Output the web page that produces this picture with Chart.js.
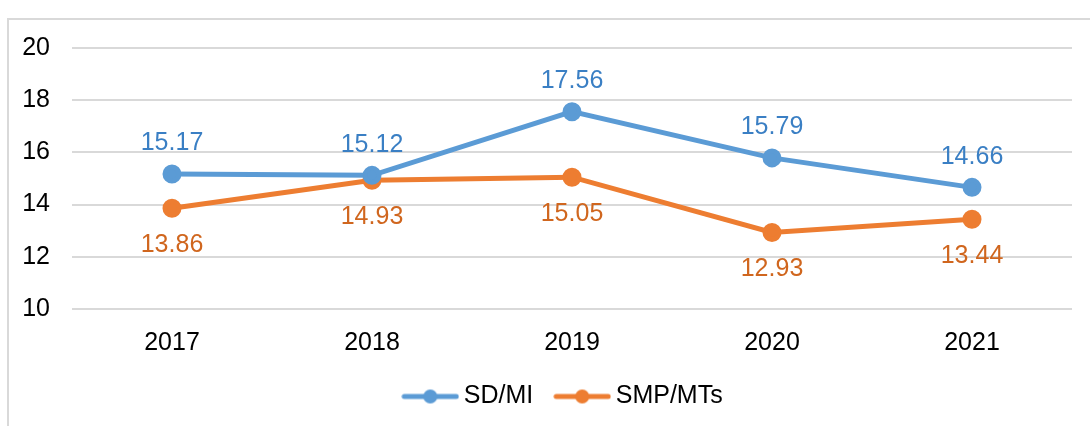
<!DOCTYPE html>
<html>
<head>
<meta charset="utf-8">
<script src="https://cdn.jsdelivr.net/npm/chart.js@4/dist/chart.umd.min.js"></script>
<style>
  html, body { margin: 0; padding: 0; background: #fff; }
  #wrap { position: relative; width: 1090px; height: 426px; overflow: hidden; }
  #frame {
    position: absolute; left: 7px; top: 18px; width: 1200px; height: 500px;
    border-left: 2px solid #d9d9d9; border-top: 2px solid #d9d9d9;
  }
  canvas { position: absolute; left: 0; top: 0; }
</style>
</head>
<body>
<div id="wrap">
  <div id="frame"></div>
  <canvas id="chart" width="1090" height="426"></canvas>
</div>
<script>
// data
const years = ["2017", "2018", "2019", "2020", "2021"];
const sdMi = [15.17, 15.12, 17.56, 15.79, 14.66];
const smpMts = [13.86, 14.93, 15.05, 12.93, 13.44];

const FONT = "'Liberation Sans', Arial, sans-serif";
const FSIZE = 25;
const BLUE = "#5b9bd5";
const ORANGE = "#ed7d31";

// legend icon: line with a dot
function legendIcon(color) {
  const c = document.createElement("canvas");
  c.width = 58;
  c.height = 16;
  const ctx = c.getContext("2d");
  ctx.strokeStyle = color;
  ctx.lineWidth = 5;
  ctx.lineCap = "round";
  ctx.beginPath();
  ctx.moveTo(3, 8);
  ctx.lineTo(55, 8);
  ctx.stroke();
  ctx.fillStyle = color;
  ctx.beginPath();
  ctx.arc(29, 8, 7, 0, Math.PI * 2);
  ctx.fill();
  return c;
}

// draws value labels above / below the points
const valueLabels = {
  id: "valueLabels",
  afterDatasetsDraw(chart) {
    const ctx = chart.ctx;
    ctx.save();
    ctx.font = FSIZE + "px " + FONT;
    ctx.textAlign = "center";
    chart.data.datasets.forEach((ds, i) => {
      const meta = chart.getDatasetMeta(i);
      meta.data.forEach((pt, j) => {
        const val = ds.data[j].toFixed(2);
        ctx.fillStyle = ds.labelColor;
        if (ds.labelPos === "above") {
          ctx.textBaseline = "bottom";
          ctx.fillText(val, pt.x, pt.y - 18);
        } else {
          ctx.textBaseline = "top";
          ctx.fillText(val, pt.x, pt.y + 24);
        }
      });
    });
    ctx.restore();
  },
};

// the original legend sits a bit right of the canvas centre
const legendShift = {
  id: "legendShift",
  afterLayout(chart) {
    chart.legend.left += 26;
    chart.legend.right += 26;
  },
};

new Chart(document.getElementById("chart"), {
  type: "line",
  data: {
    labels: years,
    datasets: [
      {
        label: "SD/MI",
        data: sdMi,
        borderColor: BLUE,
        backgroundColor: BLUE,
        borderWidth: 5,
        pointRadius: 7,
        pointHoverRadius: 7,
        tension: 0,
        labelColor: "#3a7fc4",
        labelPos: "above",
        icon: legendIcon(BLUE),
      },
      {
        label: "SMP/MTs",
        data: smpMts,
        borderColor: ORANGE,
        backgroundColor: ORANGE,
        borderWidth: 5,
        pointRadius: 7,
        pointHoverRadius: 7,
        tension: 0,
        labelColor: "#d0661e",
        labelPos: "below",
        icon: legendIcon(ORANGE),
      },
    ],
  },
  options: {
    responsive: false,
    animation: false,
    events: [],
    layout: { padding: { left: 8, right: 18, top: 48, bottom: 7 } },
    plugins: {
      tooltip: { enabled: false },
      legend: {
        position: "bottom",
        labels: {
          color: "#000",
          font: { family: FONT, size: FSIZE },
          usePointStyle: true,
          pointStyleWidth: 42,
          padding: 28,
          generateLabels(chart) {
            return chart.data.datasets.map((ds, i) => ({
              text: ds.label,
              pointStyle: ds.icon,
              fillStyle: ds.borderColor,
              strokeStyle: ds.borderColor,
              lineWidth: 0,
              hidden: false,
              datasetIndex: i,
              fontColor: "#000",
            }));
          },
        },
      },
    },
    scales: {
      x: {
        offset: true,
        grid: { display: false, drawTicks: false },
        border: { display: false },
        ticks: { color: "#000", font: { family: FONT, size: FSIZE }, padding: 19 },
        afterFit(scale) { scale.height = 47; },
      },
      y: {
        min: 10,
        max: 20,
        ticks: { stepSize: 2, color: "#000", font: { family: FONT, size: FSIZE }, padding: 22 },
        grid: { color: "#d9d9d9", lineWidth: 2, drawTicks: false },
        border: { display: false },
        afterFit(scale) { scale.width = 64; },
      },
    },
  },
  plugins: [valueLabels, legendShift],
});
</script>
</body>
</html>
